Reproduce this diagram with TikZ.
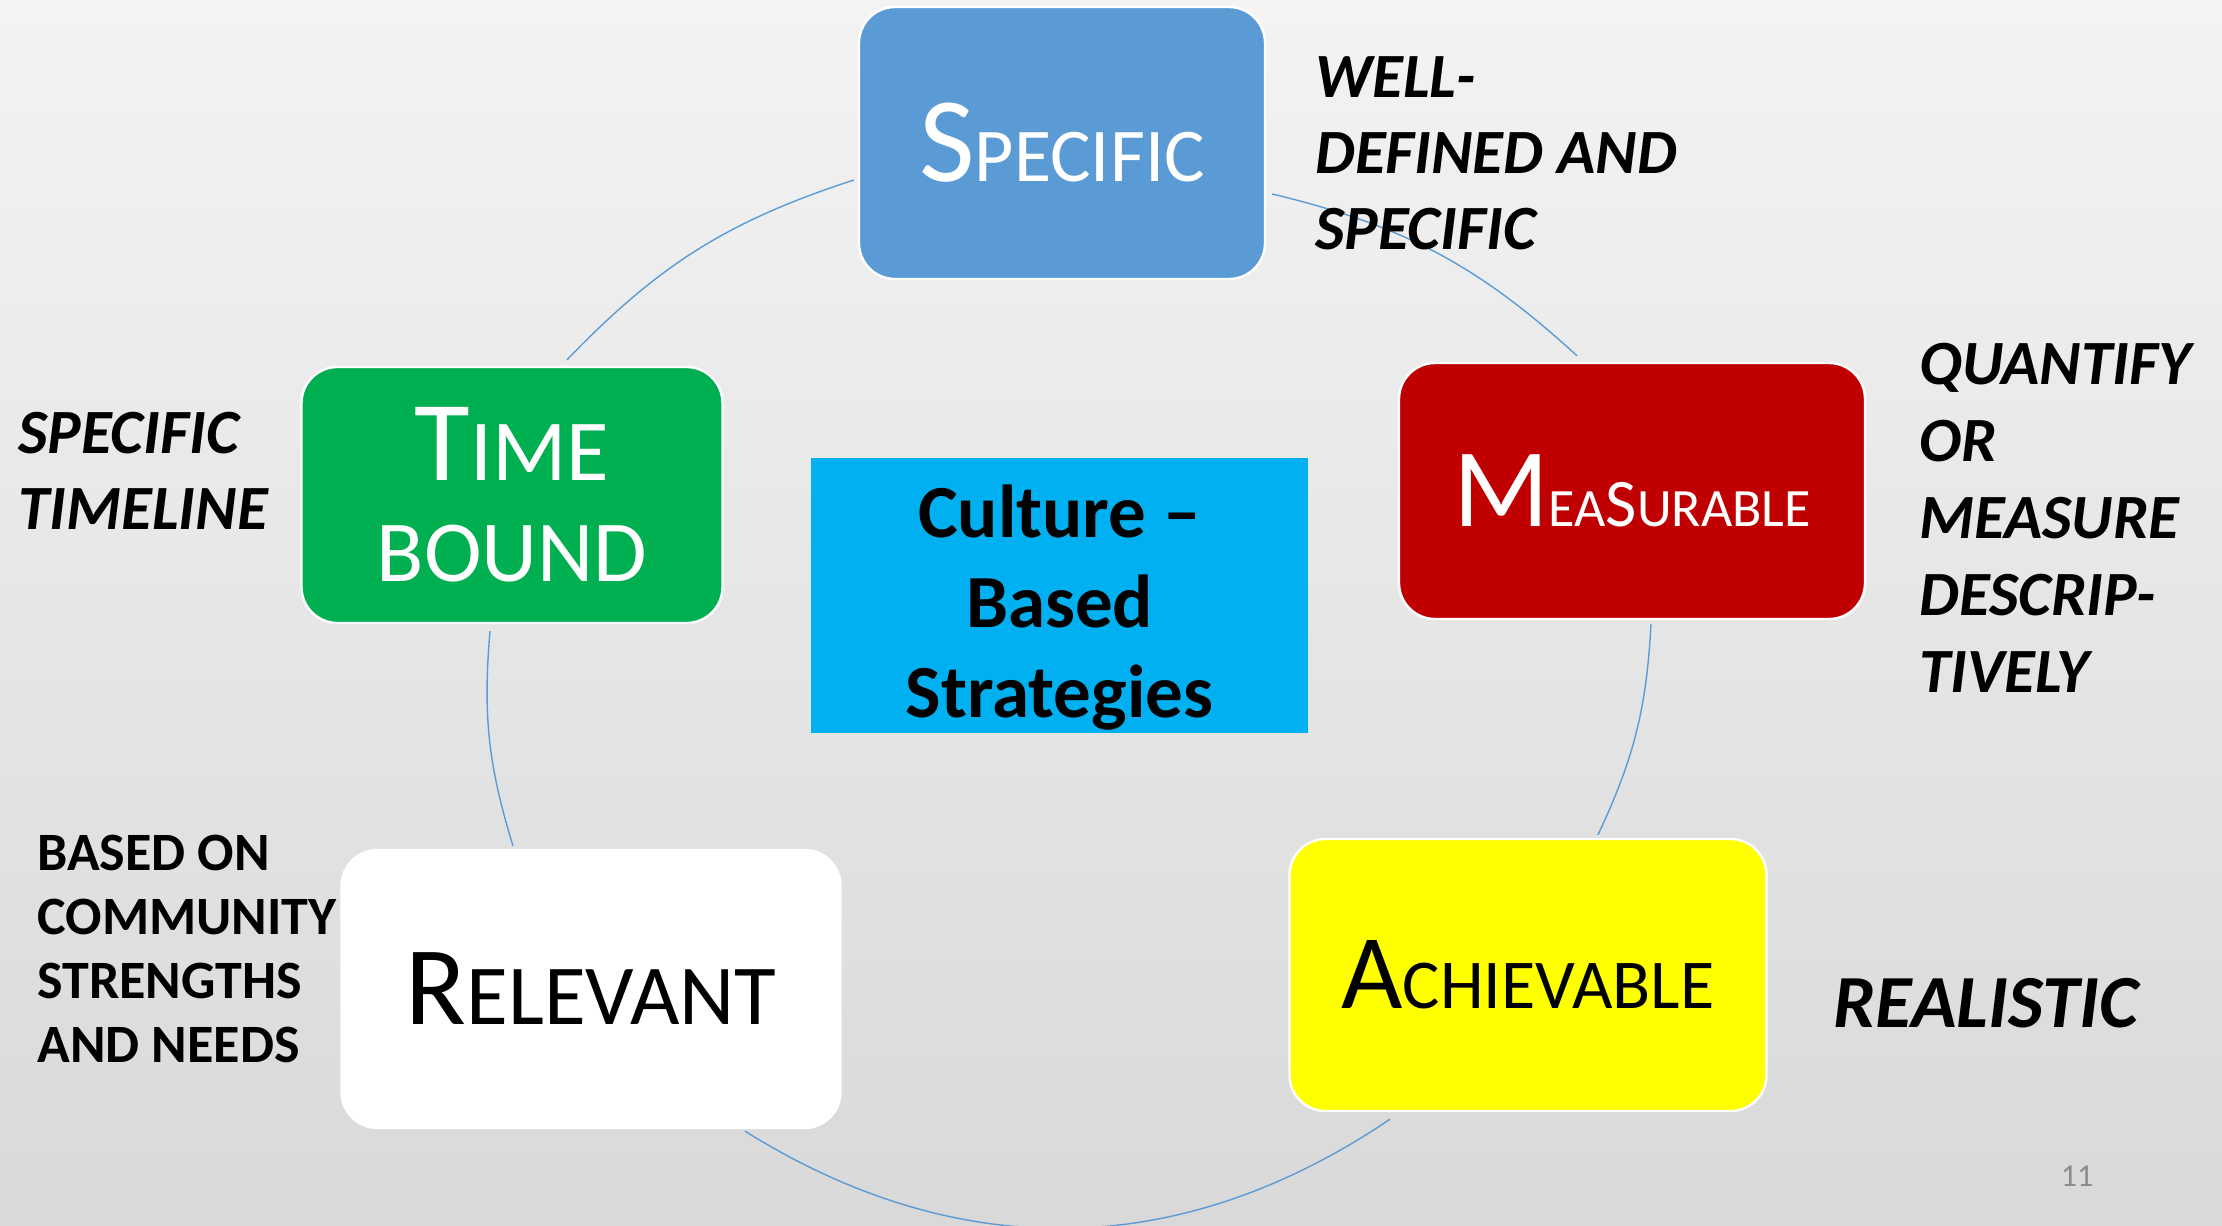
\documentclass[tikz,border=0pt]{standalone}
\usepackage{fontspec}
\setmainfont{Carlito}
\definecolor{bgtop}{HTML}{F3F3F3}
\definecolor{bgbot}{HTML}{D9D9D9}
\definecolor{cblue}{HTML}{5B9BD5}
\definecolor{cred}{HTML}{C00000}
\definecolor{cyellow}{HTML}{FFFF00}
\definecolor{cgreen}{HTML}{00B050}
\definecolor{ccyan}{HTML}{00B0F0}
\definecolor{ringcol}{HTML}{5B9BD5}
\newcommand\fs[1]{\fontsize{#1}{#1}\selectfont}
\tikzset{
  box/.style={rounded corners=18pt, draw=white, line width=1.2pt, inner sep=0pt, align=center},
  lbl/.style={anchor=base west, inner sep=0pt, font=\bfseries\itshape},
  plainlbl/.style={anchor=base west, inner sep=0pt, font=\bfseries},
  ring/.style={draw=ringcol, line width=0.7pt},
}
\begin{document}
\begin{tikzpicture}[x=0.5pt,y=-0.5pt]
\useasboundingbox (0,0) rectangle (2222,1226);
\shade[top color=bgtop, bottom color=bgbot] (0,0) rectangle (2222,1226);
% boxes
\node[box, fill=cblue, text=white, minimum width=203pt, minimum height=136pt] (spec) at (1062,143)
  {\fs{60.5}S\fs{38}PECIFIC};
\node[box, fill=cred, text=white, minimum width=233pt, minimum height=128pt] (meas) at (1632,491)
  {\fs{56}M\fs{27}EA\fs{34}S\fs{27}URABLE};
\node[box, fill=cyellow, text=black, minimum width=238.5pt, minimum height=136pt] (achv) at (1528,975)
  {\fs{53}A\fs{35}CHIEVABLE};
\node[box, fill=white, text=black, minimum width=249.5pt, minimum height=139pt] (relv) at (591,989)
  {\fs{56}R\fs{42.7}ELEVANT};
\node[box, fill=cgreen, text=white, minimum width=210.5pt, minimum height=128pt,
  font=\fontsize{43.5}{50.5}\selectfont] (time) at (512,495)
  {{\fs{57}T}IME\\BOUND};
% ring segments between boxes
\draw[ring] ([xshift=27.5pt,yshift=3pt]time.north) to[bend left=14] ([xshift=-2pt,yshift=-18.5pt]spec.west);
\draw[ring] ([xshift=3pt,yshift=-25.5pt]spec.east) to[bend left=14.5] ([xshift=-27.5pt,yshift=3pt]meas.north);
\draw[ring] ([xshift=9.5pt,yshift=-2pt]meas.south) to[bend left=11] ([xshift=35pt,yshift=1.5pt]achv.north);
\draw[ring] ([xshift=-69pt,yshift=-3.5pt]achv.south) to[bend left=33] ([xshift=77pt,yshift=-1pt]relv.south);
\draw[ring] ([xshift=-39pt,yshift=1.5pt]relv.north) to[bend left=11] ([xshift=-11pt,yshift=-3.5pt]time.south);
% centre box
\node[fill=ccyan, inner sep=0pt, minimum width=248.5pt, minimum height=137.5pt] (cbox) at (1059.5,595) {};
\node[anchor=base, inner sep=0pt, font=\fontsize{37.5}{45}\selectfont\bfseries] (ctext) at (1059.5,537)
  {\vtop{\baselineskip=45pt\halign{\hfil#\hfil\cr Culture \textendash\cr Based\cr Strategies\cr}}};
% side labels
\node[lbl, font=\fontsize{31.5}{38}\selectfont\bfseries\itshape] (wd) at (1315,97)
  {\vtop{\baselineskip=38pt\hbox{WELL-}\hbox{DEFINED AND}\hbox{SPECIFIC}}};
\node[lbl, font=\fontsize{31.5}{38}\selectfont\bfseries\itshape] (qm) at (1919,384)
  {\vtop{\baselineskip=38.5pt\hbox{QUANTIFY}\hbox{OR}\hbox{MEASURE}\hbox{DESCRIP-}\hbox{TIVELY}}};
\node[lbl, font=\fontsize{31.5}{38}\selectfont\bfseries\itshape] (st) at (18,453)
  {\vtop{\baselineskip=38pt\hbox{SPECIFIC}\hbox{TIMELINE}}};
\node[lbl, font=\fontsize{37.5}{45}\selectfont\bfseries\itshape] (rl) at (1833,1027) {REALISTIC};
\node[plainlbl, font=\fontsize{27}{32}\selectfont\bfseries] (bo) at (37,870)
  {\vtop{\baselineskip=32pt\hbox{BASED ON}\hbox{COMMUNITY}\hbox{STRENGTHS}\hbox{AND NEEDS}}};
% page number
\node[anchor=base, inner sep=0pt, text=black!45, font=\fontsize{16}{16}\selectfont] (pg) at (2077,1186) {11};
\end{tikzpicture}
\end{document}
